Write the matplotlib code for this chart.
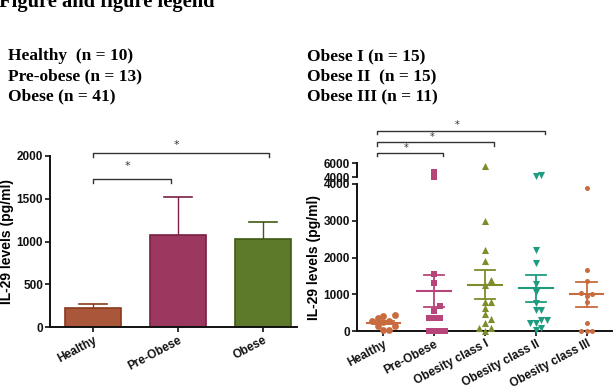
import matplotlib
matplotlib.use("Agg")
import matplotlib.pyplot as plt
import matplotlib.transforms as mtransforms
import numpy as np

W, H = 613, 389

# left panel: bar chart (mean + SEM)
bar_labels = ["Healthy", "Pre-Obese", "Obese"]
bar_means = [220, 1080, 1035]
bar_err_top = [270, 1520, 1230]
bar_fill = ["#a9563a", "#9c3760", "#5d7a2a"]
bar_edge = ["#8a3a1c", "#7a1f45", "#3f5a15"]
bar_pairs = [(0, 0.92, 1735, 1880), (0, 2.07, 2030, 2130)]

# right panel: individual values
grp_labels = ["Healthy", "Pre-Obese", "Obesity class I", "Obesity class II", "Obesity class III"]
healthy = [440, 420, 365, 280, 280, 250, 130, 130, 20, 20]
pre_obese = [4700, 4050, 1540, 1300, 690, 550, 345, 345, 365, 0, 0, 0, 0]
obese_1 = [5600, 3000, 2200, 1900, 1380, 1260, 800, 800, 620, 450, 330, 220, 80, 0, 80]
obese_2 = [4340, 4150, 2215, 1840, 1280, 1065, 765, 580, 580, 300, 300, 205, 205, 20, 95]
obese_3 = [3900, 1650, 1350, 1045, 1000, 950, 785, 205, 0, 0, 0]
grp_values = [healthy, pre_obese, obese_1, obese_2, obese_3]
grp_means = [225, 1085, 1265, 1165, 1000]
grp_sem = [45, 435, 385, 365, 345]
grp_color = ["#c86b3e", "#b8457a", "#7f8c2a", "#1f9c80", "#c86b3e"]
grp_marker = ["o", "s", "^", "v", "o"]
grp_size = [24, 17, 26, 26, 13]
grp_pairs = [(0, 1, 152.5), (0, 2, 142), (0, 3, 130.5)]

SANS = "Liberation Sans"
SERIF = "Liberation Serif"
BREAK = 4000


def rect(l, t, r, b):
    return [l / W, (H - b) / H, (r - l) / W, (b - t) / H]


def to_px(v):
    # vertical pixel position used for the broken axis
    return v * 147 / 4000 if v <= BREAK else 154 + (v - BREAK) * 14 / 2000


def swarm(values, step=0.11):
    offs = np.zeros(len(values))
    placed = []
    for i in np.argsort(values):
        y = to_px(values[i])
        tol = 6.0 if values[i] <= BREAK else 4.0
        near = [offs[j] for j in placed if abs(to_px(values[j]) - y) < tol]
        k = 0
        while True:
            cands = [0.0] if k == 0 else [k * step, -k * step]
            ok = [c for c in cands if all(abs(c - o) > step * 0.9 for o in near)]
            if ok:
                offs[i] = ok[0]
                break
            k += 1
        placed.append(i)
    return offs


fig = plt.figure(figsize=(W / 100, H / 100), dpi=100, facecolor="white")

fig.text(-1 / W, 1 - 6.5 / H, "Figure and figure legend", family=SERIF, weight="bold",
         fontsize=14.8, va="baseline", ha="left")
left_block = ["Healthy  (n = 10)", "Pre-obese (n = 13)", "Obese (n = 41)"]
right_block = ["Obese I (n = 15)", "Obese II  (n = 15)", "Obese III (n = 11)"]
for i, (a, b) in enumerate(zip(left_block, right_block)):
    yb = 1 - (60 + 20 * i) / H
    fig.text(8 / W, yb, a, family=SERIF, weight="bold", fontsize=12.5, va="baseline")
    fig.text(307 / W, yb, b, family=SERIF, weight="bold", fontsize=12.5, va="baseline")

# ---- left panel
ax = fig.add_axes(rect(50, 156, 297, 327))
x = np.arange(len(bar_labels))
ax.bar(x, bar_means, width=0.67, color=bar_fill, edgecolor=bar_edge, linewidth=1.2, zorder=2)
for i in range(len(x)):
    ax.plot([x[i], x[i]], [bar_means[i], bar_err_top[i]], color=bar_edge[i], lw=1, zorder=1)
    ax.plot([x[i] - 0.17, x[i] + 0.17], [bar_err_top[i]] * 2, color=bar_edge[i], lw=1.2)
ax.set_xlim(-0.506, 2.4)
ax.set_ylim(0, 2000)
ax.set_yticks([0, 500, 1000, 1500, 2000])
ax.set_xticks(x)
ax.set_xticklabels(bar_labels, rotation=28, ha="right", rotation_mode="anchor",
                   family=SANS, weight="bold", fontsize=8.5)
ax.set_ylabel("IL-29 levels (pg/ml)", family=SANS, weight="bold", fontsize=10, labelpad=2)
for a, b, yl, ys in bar_pairs:
    ax.plot([a, a, b, b], [yl - 45, yl, yl, yl - 45], color="#333333", lw=1, clip_on=False)
    ax.text((a + b) / 2 - 0.05, ys, "*", ha="center", va="center", fontsize=8, color="#333333")

# ---- right panel (broken y axis)
axb = fig.add_axes(rect(357, 184, 612, 331))
axt = fig.add_axes(rect(357, 163, 612, 177), sharex=axb)
gx = np.arange(len(grp_labels))
for i, vals in enumerate(grp_values):
    vals = np.array(vals)
    xs = gx[i] + swarm(vals)
    low = vals <= BREAK
    axb.scatter(xs[low], vals[low], s=grp_size[i], marker=grp_marker[i], color=grp_color[i],
                linewidths=0, zorder=3, clip_on=False)
    axt.scatter(xs[~low], vals[~low], s=grp_size[i], marker=grp_marker[i], color=grp_color[i],
                linewidths=0, zorder=3, clip_on=False)
    m, s = grp_means[i], grp_sem[i]
    axb.plot([gx[i] - 0.33, gx[i] + 0.33], [m, m], color=grp_color[i], lw=1.5, zorder=4)
    axb.plot([gx[i], gx[i]], [m - s, m + s], color=grp_color[i], lw=1.3, zorder=4)
    for yy in (m - s, m + s):
        axb.plot([gx[i] - 0.2, gx[i] + 0.2], [yy, yy], color=grp_color[i], lw=1.3, zorder=4)
axb.set_xlim(-0.52, 4.5)
axb.set_ylim(0, BREAK)
axt.set_ylim(BREAK, 6000)
axb.set_yticks([0, 1000, 2000, 3000, 4000])
axt.set_yticks([4000, 6000])
axb.set_xticks(gx)
axb.set_xticklabels(grp_labels, rotation=28, ha="right", rotation_mode="anchor",
                    family=SANS, weight="bold", fontsize=8.5)
axt.tick_params(axis="x", bottom=False, labelbottom=False)
axb.set_ylabel("IL-29 levels (pg/ml)", family=SANS, weight="bold", fontsize=10, labelpad=2)
axt.spines["bottom"].set_visible(False)

tr = mtransforms.blended_transform_factory(axb.transData, fig.transFigure)
for a, b, ypx in grp_pairs:
    y0 = 1 - ypx / H
    dy = 3.5 / H
    fig.lines.append(plt.Line2D([a - 0.12, a - 0.12, b + 0.18, b + 0.18], [y0 - dy, y0, y0, y0 - dy],
                                transform=tr, color="#333333", lw=1))
    fig.text((a + b) / 2 - 0.05, y0 + 5 / H, "*", transform=tr, ha="center", va="center",
             fontsize=7, color="#333333")

for a_ in (ax, axb, axt):
    a_.set_facecolor("none")
    a_.spines["top"].set_visible(False)
    a_.spines["right"].set_visible(False)
    for sp in a_.spines.values():
        sp.set_linewidth(1.4)
        sp.set_color("#111111")
    a_.tick_params(direction="out", length=3.5, width=1.2, pad=1.5, colors="#111111")
    for lab in a_.get_yticklabels():
        lab.set_family(SANS)
        lab.set_weight("bold")
        lab.set_fontsize(8.5)

fig.savefig("out.png", dpi=100)
